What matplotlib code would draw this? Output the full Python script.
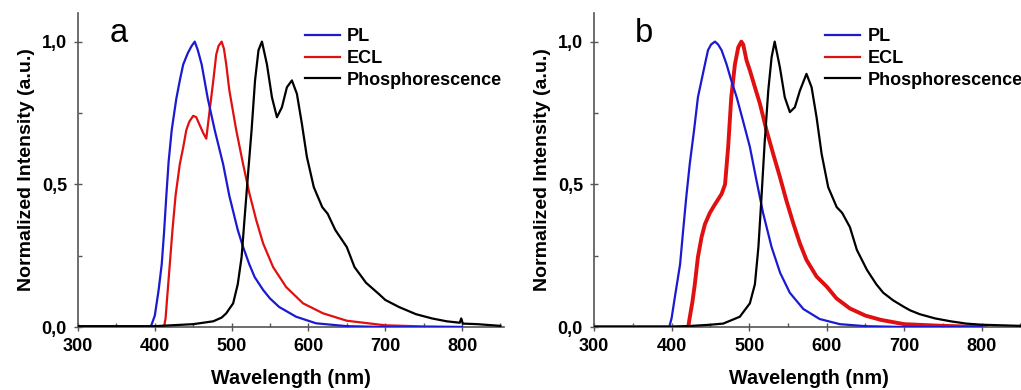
import matplotlib.pyplot as plt

plt.rcParams['font.family'] = ['Liberation Sans', 'DejaVu Sans']

# ---- painel a ----
pl_a_x = [300, 394, 396, 400, 405, 409, 412, 415, 418, 422, 428, 433, 437, 443, 448, 452, 456, 461,
          465, 469, 478, 489, 497, 508, 515, 523, 530, 541, 550, 562, 584, 610, 650, 700, 800]
pl_a_y = [0.0, 0.0, 0.01, 0.04, 0.13, 0.22, 0.33, 0.46, 0.58, 0.69, 0.80, 0.87, 0.92, 0.96, 0.985, 1.0, 0.97, 0.92,
          0.86, 0.80, 0.69, 0.57, 0.46, 0.34, 0.28, 0.22, 0.175, 0.13, 0.10, 0.07, 0.036, 0.013, 0.003, 0.0, 0.0]

ecl_a_x = [300, 412, 414, 416, 419.5, 423, 427, 432.5, 437, 441, 445, 450, 454, 458, 463, 467, 471,
           476, 480, 483, 487, 490, 493, 497, 506, 515, 523, 532, 541, 554, 571, 593, 619, 650,
           700, 750, 800]
ecl_a_y = [0.0, 0.0, 0.03, 0.10, 0.22, 0.34, 0.46, 0.57, 0.63, 0.69, 0.72, 0.74, 0.735, 0.71, 0.68, 0.66, 0.75,
           0.86, 0.955, 0.985, 1.0, 0.975, 0.92, 0.83, 0.69, 0.57, 0.47, 0.375, 0.293, 0.21, 0.14, 0.083, 0.048, 0.022,
           0.006, 0.002, 0.0]

ph_a_x = [300, 400, 450, 476, 487, 493, 502, 508, 513, 517, 521.5, 526, 530.5, 535, 539.5, 546, 552.5,
          559, 565.5, 572, 578.5, 585, 591.5, 598, 607, 618, 625, 635, 650, 660, 675, 692, 700, 718,
          740, 761, 780, 797, 799, 801, 820, 850]
ph_a_y = [0.003, 0.003, 0.01, 0.02, 0.033, 0.048, 0.083, 0.15, 0.245, 0.385, 0.54, 0.69, 0.864, 0.97, 1.0, 0.92, 0.805,
          0.735, 0.77, 0.84, 0.864, 0.817, 0.712, 0.596, 0.49, 0.42, 0.397, 0.34, 0.28, 0.21, 0.155, 0.115, 0.095, 0.07,
          0.045, 0.03, 0.02, 0.015, 0.03, 0.012, 0.01, 0.004]

# ---- painel b ----
pl_b_x = [300, 397, 400, 404, 411, 415, 419, 423.5, 429, 434, 443, 447, 451, 456, 460, 464.5, 471, 477,
          484, 492, 501, 509.5, 518, 529, 540, 552.5, 570, 591, 617, 650, 700, 800]
pl_b_y = [0.0, 0.0, 0.03, 0.10, 0.22, 0.34, 0.456, 0.572, 0.689, 0.805, 0.92, 0.97, 0.99, 1.0, 0.99, 0.97, 0.92, 0.864,
          0.805, 0.724, 0.631, 0.514, 0.40, 0.28, 0.19, 0.12, 0.063, 0.028, 0.01, 0.003, 0.0, 0.0]

ecl_b_x = [300, 421.5, 423.6, 427, 430, 434, 438.7, 443, 449.4, 456, 464.5, 469, 473, 477, 481.7, 486,
           490, 492.4, 496.7, 501, 507.5, 514, 522.5, 531, 539.7, 548, 557, 565.5, 574, 587, 600,
           612.8, 630, 650, 670, 700, 750, 805]
ecl_b_y = [0.0, 0.0, 0.036, 0.09, 0.15, 0.245, 0.315, 0.36, 0.40, 0.43, 0.466, 0.50, 0.631, 0.805, 0.92, 0.98,
           1.0, 0.99, 0.934, 0.899, 0.84, 0.782, 0.689, 0.607, 0.526, 0.444, 0.363, 0.293, 0.235, 0.177, 0.142,
           0.10, 0.065, 0.04, 0.025, 0.01, 0.004, 0.0]

ph_b_x = [300, 400, 420, 450, 466.6, 488, 501, 507.5, 512, 516, 520, 524.7, 529, 533, 539.7, 546, 552.6,
          559, 565.5, 574, 580.6, 587, 593.5, 602, 613, 620, 630, 639, 652, 664, 673, 686, 700, 708,
          720, 740, 760, 780, 800, 850]
ph_b_y = [0.0, 0.0, 0.003, 0.008, 0.012, 0.036, 0.083, 0.15, 0.28, 0.456, 0.643, 0.828, 0.945, 1.0, 0.91, 0.805, 0.753,
          0.77, 0.828, 0.887, 0.84, 0.735, 0.607, 0.49, 0.42, 0.40, 0.35, 0.27, 0.20, 0.15, 0.12, 0.093, 0.07, 0.058,
          0.045, 0.03, 0.02, 0.012, 0.008, 0.004]

nomes = ['PL', 'ECL', 'Phosphorescence']
cores = ['#1a1ad0', '#e01010', 'black']
yticks = [0.0, 0.5, 1.0]
ytick_labels = ['0,0', '0,5', '1,0']
xticks = [300, 400, 500, 600, 700, 800]

fig = plt.figure(figsize=(10.21, 3.9), dpi=100)
ax_a = fig.add_axes([0.0764, 0.1615, 0.4175, 0.805])
ax_b = fig.add_axes([0.5818, 0.1615, 0.4215, 0.805])

paineis = [
    (ax_a, 'a', pl_a_x, pl_a_y, ecl_a_x, ecl_a_y, ph_a_x, ph_a_y, 1.6, 0.532, 0.075),
    (ax_b, 'b', pl_b_x, pl_b_y, ecl_b_x, ecl_b_y, ph_b_x, ph_b_y, 2.8, 0.537, 0.096),
]

for ax, letra, plx, ply, eclx, ecly, phx, phy, lw_ecl, leg_x, letra_x in paineis:
    ax.plot(plx, ply, color=cores[0], lw=1.6, label=nomes[0], zorder=3, solid_joinstyle='round')
    ax.plot(eclx, ecly, color=cores[1], lw=lw_ecl, label=nomes[1], zorder=2, solid_joinstyle='round')
    ax.plot(phx, phy, color=cores[2], lw=1.6, label=nomes[2], zorder=4, solid_joinstyle='round')

    ax.set_xlim(300, 855)
    ax.set_ylim(0, 1.1)
    ax.set_xticks(xticks)
    ax.set_xticks(range(350, 851, 100), minor=True)
    ax.set_yticks(yticks)
    ax.set_yticklabels(ytick_labels)
    ax.set_yticks([0.25, 0.75], minor=True)
    for lab in ax.get_xticklabels() + ax.get_yticklabels():
        lab.set_fontweight('bold')
        lab.set_fontsize(13)
    ax.tick_params(which='major', direction='inout', length=6, width=1, color='#555555')
    ax.tick_params(axis='x', which='major', pad=5)
    ax.tick_params(axis='y', which='major', pad=5)
    ax.tick_params(which='minor', direction='in', length=3, width=1, color='#555555')
    for lado in ['top', 'right']:
        ax.spines[lado].set_visible(False)
    for lado in ['left', 'bottom']:
        ax.spines[lado].set_color('#555555')
        ax.spines[lado].set_linewidth(1.2)

    ax.set_xlabel('Wavelength (nm)', fontsize=14.3, fontweight='bold', labelpad=10)
    ax.set_ylabel('Normalized Intensity (a.u.)', fontsize=14, fontweight='bold', labelpad=5)
    ax.text(letra_x, 0.908, letra, transform=ax.transAxes, fontsize=23.5, va='baseline', ha='left')

    leg = ax.legend(loc='upper left', bbox_to_anchor=(leg_x, 0.952), frameon=False,
                    handlelength=1.95, handletextpad=0.4, labelspacing=0.26, borderaxespad=0,
                    borderpad=0, prop={'weight': 'bold', 'size': 13})
    for h in leg.legend_handles:
        h.set_linewidth(1.6)

fig.savefig('out.png', dpi=100)
